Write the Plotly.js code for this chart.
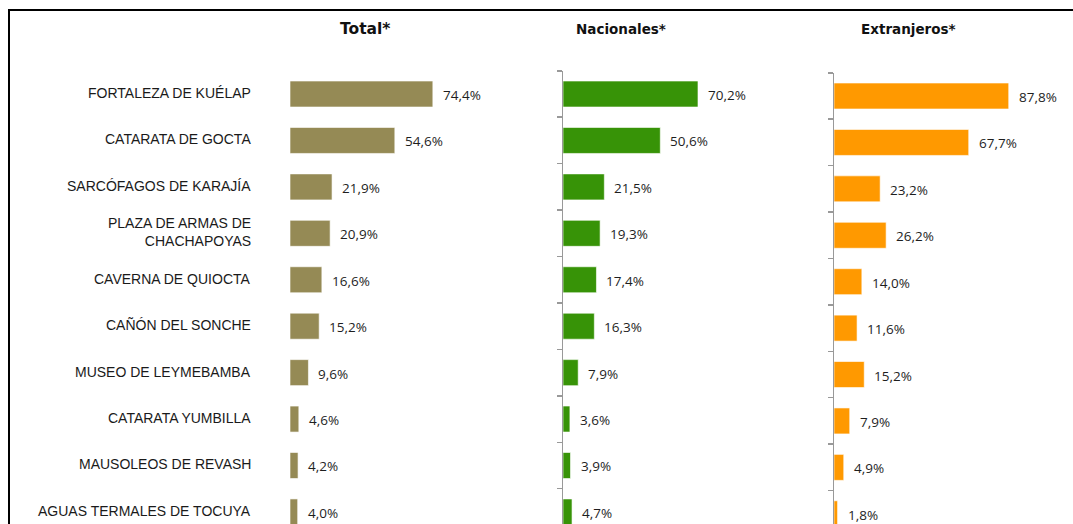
<!DOCTYPE html>
<html><head><meta charset="utf-8">
<script src="https://cdn.plot.ly/plotly-3.0.1.min.js"></script>
<style>html,body{margin:0;padding:0;background:#fff}#c{width:1073px;height:524px}</style>
</head><body><div id="c"></div>
<script>
var categories = ["FORTALEZA DE KUÉLAP","CATARATA DE GOCTA","SARCÓFAGOS DE KARAJÍA","PLAZA DE ARMAS DE<br>CHACHAPOYAS","CAVERNA DE QUIOCTA","CAÑÓN DEL SONCHE","MUSEO DE LEYMEBAMBA","CATARATA YUMBILLA","MAUSOLEOS DE REVASH","AGUAS TERMALES DE TOCUYA"];
var total = [74.4,54.6,21.9,20.9,16.6,15.2,9.6,4.6,4.2,4.0];
var nacionales = [70.2,50.6,21.5,19.3,17.4,16.3,7.9,3.6,3.9,4.7];
var extranjeros = [87.8,67.7,23.2,26.2,14.0,11.6,15.2,7.9,4.9,1.8];
var panelTitles = ["Total*","Nacionales*","Extranjeros*"];

var W=1073,H=524;
var yTop = 1-70.8/H;
var yTop3 = 1-72.8/H;
var yr = [9.26,-0.5];
var yr3 = [9.22,-0.5];
function fmt(v){return v.toFixed(1).replace('.',',')+'%';}
var colors = ["#958A55","#379307","#FF9900"];
var series=[total,nacionales,extranjeros];
var traces=[];
var annotations=[];
var axn=['','2','3'];
series.forEach(function(s,i){
  traces.push({type:'bar',orientation:'h',x:s,y:categories,xaxis:'x'+axn[i],yaxis:'y'+axn[i],
    marker:{color:colors[i],line:{color:'rgba(255,255,255,0.6)',width:1}},width:0.56,hoverinfo:'skip',cliponaxis:false});
  s.forEach(function(v,k){
    annotations.push({xref:'x'+axn[i],yref:'y'+axn[i],x:v,y:categories[k],text:fmt(v),showarrow:false,
      xanchor:'left',xshift:8,yshift:-1,font:{family:'Open Sans, sans-serif',size:13.5,color:'#1e1e1e'}});
  });
});
categories.forEach(function(c){
  annotations.push({xref:'paper',yref:'y',x:253/W,y:c,text:c,showarrow:false,xanchor:'right',align:'right',yshift:1,
    font:{family:'Liberation Sans, Arial, sans-serif',size:14,color:'#1a1a1a'}});
});
var titleX=[365,621,908], titleSize=[15.5,13.5,13.5];
panelTitles.forEach(function(t,i){
  annotations.push({xref:'paper',yref:'paper',x:titleX[i]/W,y:1-29/H,text:'<b>'+t+'</b>',showarrow:false,
    xanchor:'center',yanchor:'middle',font:{family:'DejaVu Sans, sans-serif',size:titleSize[i],color:'#111'}});
});
var hiddenX={range:[0,100],showgrid:false,zeroline:false,showticklabels:false,ticks:'',showline:false,fixedrange:true};
var layout={
  width:W,height:H,margin:{l:0,r:0,t:0,b:0},paper_bgcolor:'#fff',plot_bgcolor:'rgba(0,0,0,0)',showlegend:false,
  xaxis:Object.assign({},hiddenX,{domain:[290/W,482/W],anchor:'y'}),
  xaxis2:Object.assign({},hiddenX,{domain:[563/W,755.3/W],anchor:'y2'}),
  xaxis3:Object.assign({},hiddenX,{domain:[834/W,1033/W],anchor:'y3'}),
  yaxis:{type:'category',range:yr,domain:[0,yTop],anchor:'x',visible:false,fixedrange:true},
  yaxis2:{type:'category',range:yr,domain:[0,yTop],anchor:'x2',showticklabels:false,showgrid:false,zeroline:false,
    showline:true,linecolor:'#999',linewidth:1.5,ticks:'outside',tickson:'boundaries',ticklen:5,tickcolor:'#999',tickwidth:1.5,fixedrange:true},
  yaxis3:{type:'category',range:yr3,domain:[0,yTop3],anchor:'x3',showticklabels:false,showgrid:false,zeroline:false,
    showline:true,linecolor:'#999',linewidth:1.5,ticks:'outside',tickson:'boundaries',ticklen:5,tickcolor:'#999',tickwidth:1.5,fixedrange:true},
  annotations:annotations,
  shapes:[{type:'rect',xref:'paper',yref:'paper',x0:9/W,x1:1.02,y0:-0.1,y1:1-10/H,line:{color:'#000',width:2},fillcolor:'rgba(0,0,0,0)'}]
};
Plotly.newPlot('c',traces,layout,{displayModeBar:false,staticPlot:true});
</script></body></html>
